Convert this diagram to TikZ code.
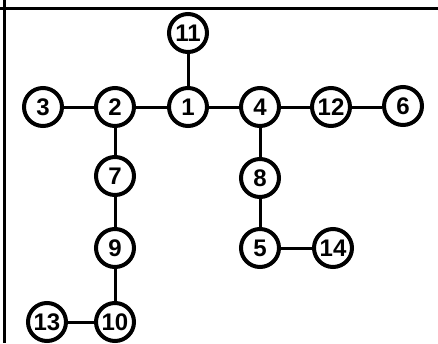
\documentclass[tikz,border=0pt]{standalone}
\usepackage{fontspec}
\setmainfont{Liberation Sans}
\usetikzlibrary{positioning}
\tikzset{
  vtx/.style={circle,draw,line width=4pt,minimum size=38pt,inner sep=0pt,
    font=\bfseries\fontsize{24}{24}\selectfont},
  edge/.style={line width=3pt}
}
\begin{document}
\begin{tikzpicture}[x=1pt,y=-1pt]
\useasboundingbox (0,0) rectangle (438,343);
% ---- frame ----
\draw[line width=3pt] (4,0) -- (4,343);
\draw[line width=3pt] (0,8) -- (438,8);
% ---- vertices (pixel positions) ----
\foreach \name/\x/\y in {11/188/33, 3/43/107, 2/115/107, 1/188/107, 4/260/107,
    12/331/107, 6/403/106, 7/115/176, 9/115/248, 10/115/322, 13/47/322,
    8/260/178, 5/260/248, 14/333/248}
  \node[vtx] (v\name) at (\x,\y) {\name};
% ---- edges ----
\foreach \a/\b in {3/2, 2/1, 1/11, 1/4, 4/12, 2/7, 7/9, 9/10, 13/10,
    4/8, 8/5, 5/14}
  \draw[edge] (v\a) -- (v\b);
\draw[edge] (v12) -- (v6.west |- v12);
\end{tikzpicture}
\end{document}
